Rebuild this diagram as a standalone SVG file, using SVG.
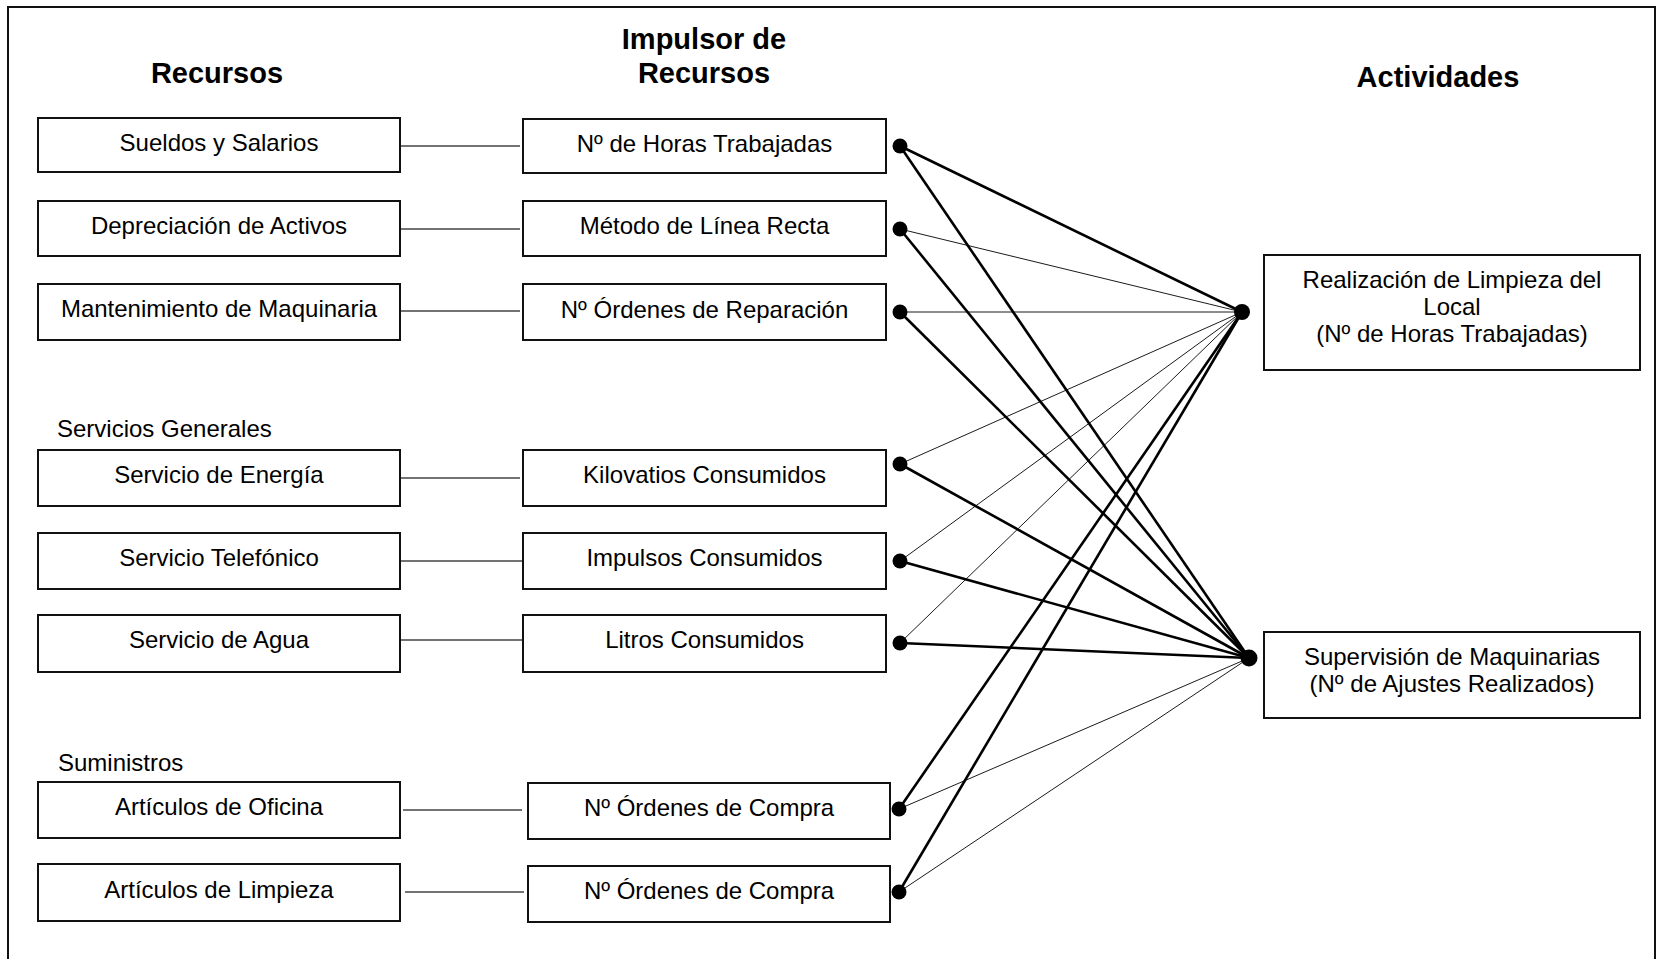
<svg xmlns="http://www.w3.org/2000/svg" width="1657" height="959" viewBox="0 0 1657 959">
  <style>
    text { font-family: "Liberation Sans", Arial, sans-serif; fill: #000; }
    .lbl { font-size: 24px; text-anchor: middle; }
    .sec { font-size: 24px; }
    .title { font-size: 29px; font-weight: bold; text-anchor: middle; }
    .box { fill: #fff; stroke: #111; stroke-width: 2; }
    .link { stroke: #444; stroke-width: 1.4; fill: none; }
    .thick { stroke: #000; stroke-width: 2.6; fill: none; }
    .thin { stroke: #000; stroke-width: 0.9; fill: none; }
    .dot { fill: #000; }
  </style>

  <!-- outer frame -->
  <rect x="8" y="7" width="1647" height="970" fill="#fff" stroke="#111" stroke-width="2"/>

  <!-- column headings -->
  <text class="title" x="217" y="83">Recursos</text>
  <text class="title" x="704" y="49">Impulsor de</text>
  <text class="title" x="704" y="83">Recursos</text>
  <text class="title" x="1438" y="87">Actividades</text>

  <!-- group captions -->
  <text class="sec" x="57" y="437">Servicios Generales</text>
  <text class="sec" x="58" y="771">Suministros</text>

  <!-- resource to driver links and driver to activity links -->
  <g id="connectors">
    <line class="link" x1="400" y1="146" x2="520" y2="146"/>
    <line class="link" x1="400" y1="229" x2="520" y2="229"/>
    <line class="link" x1="400" y1="311" x2="520" y2="311"/>
    <line class="link" x1="400" y1="478" x2="520" y2="478"/>
    <line class="link" x1="401" y1="561" x2="522" y2="561"/>
    <line class="link" x1="401" y1="640" x2="522" y2="640"/>
    <line class="link" x1="403" y1="810" x2="522" y2="810"/>
    <line class="link" x1="405" y1="892" x2="524" y2="892"/>

    <!-- to Realización de Limpieza del Local -->
    <line class="thick" x1="900" y1="146" x2="1242" y2="312"/>
    <line class="thin" x1="900" y1="229" x2="1242" y2="312"/>
    <line class="thin" x1="900" y1="312" x2="1242" y2="312" stroke="#555"/>
    <line class="thin" x1="900" y1="464" x2="1242" y2="312"/>
    <line class="thin" x1="900" y1="561" x2="1242" y2="312"/>
    <line class="thin" x1="900" y1="643" x2="1242" y2="312"/>
    <line class="thick" x1="899" y1="809" x2="1242" y2="312"/>
    <line class="thick" x1="899" y1="892" x2="1242" y2="312"/>

    <!-- to Supervisión de Maquinarias -->
    <line class="thick" x1="900" y1="146" x2="1249" y2="658"/>
    <line class="thick" x1="900" y1="229" x2="1249" y2="658"/>
    <line class="thick" x1="900" y1="312" x2="1249" y2="658"/>
    <line class="thick" x1="900" y1="464" x2="1249" y2="658"/>
    <line class="thick" x1="900" y1="561" x2="1249" y2="658"/>
    <line class="thick" x1="900" y1="643" x2="1249" y2="658"/>
    <line class="thin" x1="899" y1="809" x2="1249" y2="658"/>
    <line class="thin" x1="899" y1="892" x2="1249" y2="658"/>

    <!-- junction dots -->
    <circle class="dot" cx="900" cy="146" r="7.5"/>
    <circle class="dot" cx="900" cy="229" r="7.5"/>
    <circle class="dot" cx="900" cy="312" r="7.5"/>
    <circle class="dot" cx="900" cy="464" r="7.5"/>
    <circle class="dot" cx="900" cy="561" r="7.5"/>
    <circle class="dot" cx="900" cy="643" r="7.5"/>
    <circle class="dot" cx="899" cy="809" r="7.5"/>
    <circle class="dot" cx="899" cy="892" r="7.5"/>
    <circle class="dot" cx="1242" cy="312" r="8"/>
    <circle class="dot" cx="1249" cy="658" r="8.5"/>
  </g>

  <!-- resources -->
  <g id="r-sueldos"><rect class="box" x="38" y="118" width="362" height="54"/><text class="lbl" x="219" y="151">Sueldos y Salarios</text></g>
  <g id="r-depreciacion"><rect class="box" x="38" y="201" width="362" height="55"/><text class="lbl" x="219" y="234">Depreciación de Activos</text></g>
  <g id="r-mantenimiento"><rect class="box" x="38" y="284" width="362" height="56"/><text class="lbl" x="219" y="317">Mantenimiento de Maquinaria</text></g>
  <g id="r-energia"><rect class="box" x="38" y="450" width="362" height="56"/><text class="lbl" x="219" y="483">Servicio de Energía</text></g>
  <g id="r-telefonico"><rect class="box" x="38" y="533" width="362" height="56"/><text class="lbl" x="219" y="566">Servicio Telefónico</text></g>
  <g id="r-agua"><rect class="box" x="38" y="615" width="362" height="57"/><text class="lbl" x="219" y="648">Servicio de Agua</text></g>
  <g id="r-oficina"><rect class="box" x="38" y="782" width="362" height="56"/><text class="lbl" x="219" y="815">Artículos de Oficina</text></g>
  <g id="r-limpieza"><rect class="box" x="38" y="864" width="362" height="57"/><text class="lbl" x="219" y="898">Artículos de Limpieza</text></g>

  <!-- resource drivers -->
  <g id="d-horas"><rect class="box" x="523" y="119" width="363" height="54"/><text class="lbl" x="704.5" y="152">Nº de Horas Trabajadas</text></g>
  <g id="d-linea-recta"><rect class="box" x="523" y="201" width="363" height="55"/><text class="lbl" x="704.5" y="234">Método de Línea Recta</text></g>
  <g id="d-reparacion"><rect class="box" x="523" y="284" width="363" height="56"/><text class="lbl" x="704.5" y="318">Nº Órdenes de Reparación</text></g>
  <g id="d-kilovatios"><rect class="box" x="523" y="450" width="363" height="56"/><text class="lbl" x="704.5" y="483">Kilovatios Consumidos</text></g>
  <g id="d-impulsos"><rect class="box" x="523" y="533" width="363" height="56"/><text class="lbl" x="704.5" y="566">Impulsos Consumidos</text></g>
  <g id="d-litros"><rect class="box" x="523" y="615" width="363" height="57"/><text class="lbl" x="704.5" y="648">Litros Consumidos</text></g>
  <g id="d-compra-oficina"><rect class="box" x="528" y="783" width="362" height="56"/><text class="lbl" x="709" y="816">Nº Órdenes de Compra</text></g>
  <g id="d-compra-limpieza"><rect class="box" x="528" y="866" width="362" height="56"/><text class="lbl" x="709" y="899">Nº Órdenes de Compra</text></g>

  <!-- activities -->
  <g id="a-limpieza">
    <rect class="box" x="1264" y="255" width="376" height="115"/>
    <text class="lbl" x="1452" y="288">Realización de Limpieza del</text>
    <text class="lbl" x="1452" y="315">Local</text>
    <text class="lbl" x="1452" y="342">(Nº de Horas Trabajadas)</text>
  </g>
  <g id="a-supervision">
    <rect class="box" x="1264" y="632" width="376" height="86"/>
    <text class="lbl" x="1452" y="665">Supervisión de Maquinarias</text>
    <text class="lbl" x="1452" y="692">(Nº de Ajustes Realizados)</text>
  </g>
</svg>
